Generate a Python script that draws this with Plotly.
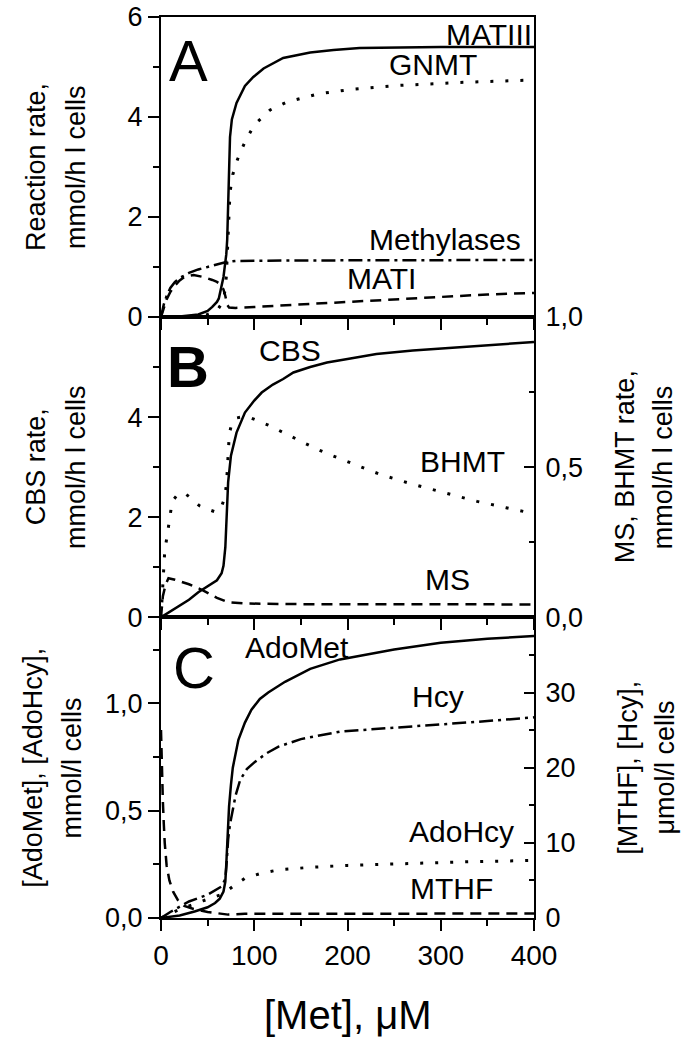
import plotly.graph_objects as go

# panel A: reaction rates, mmol/h l cells
MATIII_X = [0, 20, 40, 50, 55, 60, 62, 65, 67, 68, 69, 70, 71, 72, 73, 74, 76, 81, 90, 99, 110, 131, 160, 185, 213, 300, 400]
MATIII_Y = [0, 0.01, 0.05, 0.12, 0.2, 0.3, 0.37, 0.6, 0.8, 0.95, 1.1, 1.25, 1.55, 2.2, 3.0, 3.6, 3.95, 4.28, 4.62, 4.8, 4.97, 5.18, 5.29, 5.34, 5.38, 5.4, 5.4]
GNMT_X = [0, 30, 50, 60, 66, 68, 70, 71, 72, 73, 74, 77, 82, 90, 100, 117, 135, 168, 203, 254, 320, 400]
GNMT_Y = [0, 0.01, 0.05, 0.12, 0.3, 0.45, 0.8, 1.2, 1.7, 2.2, 2.5, 2.85, 3.15, 3.5, 3.84, 4.14, 4.3, 4.46, 4.55, 4.63, 4.69, 4.74]
METHYL_X = [0, 3, 6, 10, 15, 20, 30, 40, 50, 60, 70, 80, 150, 400]
METHYL_Y = [0, 0.25, 0.42, 0.58, 0.7, 0.78, 0.88, 0.95, 1.0, 1.05, 1.1, 1.12, 1.13, 1.14]
MATI_X = [0, 3, 6, 10, 15, 20, 25, 35, 45, 55, 60, 64, 67, 69, 70, 71, 73, 80, 100, 150, 200, 250, 300, 350, 400]
MATI_Y = [0, 0.2, 0.35, 0.5, 0.63, 0.73, 0.8, 0.84, 0.8, 0.74, 0.7, 0.65, 0.55, 0.42, 0.32, 0.24, 0.19, 0.18, 0.2, 0.25, 0.3, 0.36, 0.41, 0.45, 0.48]

# panel B: CBS (left), BHMT and MS (right)
CBS_X = [0, 10, 20, 30, 40, 50, 60, 65, 67, 69, 70, 71, 72, 75, 81, 90, 100, 108, 120, 131, 142, 160, 178, 200, 231, 270, 317, 360, 400]
CBS_Y = [0, 0.12, 0.23, 0.35, 0.5, 0.62, 0.74, 0.88, 1.03, 1.4, 1.8, 2.3, 2.7, 3.23, 3.69, 4.09, 4.33, 4.49, 4.65, 4.76, 4.89, 5.0, 5.09, 5.16, 5.26, 5.33, 5.39, 5.45, 5.5]
BHMT_X = [0, 2, 4, 7, 9, 12, 18, 25, 33, 41, 50, 59, 65, 68.6, 70.4, 71.5, 72.2, 73.3, 76, 80, 88, 97, 115, 131, 149, 167, 184, 201, 219, 236, 253, 270, 288, 305, 339, 370, 400]
BHMT_Y = [0, 0.12, 0.22, 0.28, 0.33, 0.386, 0.41, 0.414, 0.395, 0.372, 0.36, 0.35, 0.37, 0.40, 0.453, 0.505, 0.558, 0.613, 0.645, 0.663, 0.668, 0.663, 0.64, 0.615, 0.586, 0.56, 0.538, 0.516, 0.495, 0.475, 0.458, 0.443, 0.428, 0.414, 0.386, 0.365, 0.345]
MS_X = [0, 2, 5, 8, 15, 30, 45, 60, 72, 90, 150, 400]
MS_Y = [0, 0.07, 0.11, 0.13, 0.125, 0.11, 0.09, 0.065, 0.05, 0.046, 0.044, 0.043]

# panel C: AdoMet, AdoHcy (left, mmol/l), Hcy, MTHF (right, umol/l)
ADOMET_X = [0, 20, 36, 50, 58, 63, 67, 69, 70, 71, 72, 73, 75, 77, 83, 90, 97, 106, 115, 133, 160, 192, 250, 300, 350, 400]
ADOMET_Y = [0, 0.012, 0.03, 0.05, 0.07, 0.09, 0.123, 0.17, 0.25, 0.364, 0.45, 0.52, 0.62, 0.7, 0.83, 0.91, 0.97, 1.02, 1.05, 1.1, 1.16, 1.204, 1.25, 1.282, 1.3, 1.313]
HCY_X = [0, 10, 30, 50, 65, 69, 70.5, 72, 74, 76, 80, 85, 92, 101, 113, 126, 150, 192, 250, 299, 350, 400]
HCY_Y = [0, 0.8, 2.2, 3.1, 4.2, 5.2, 7.5, 10.5, 12.5, 13.8, 16.3, 18.4, 19.8, 20.8, 21.9, 22.8, 23.8, 24.8, 25.3, 25.7, 26.2, 26.7]
ADOHCY_X = [0, 20, 45, 65, 72, 78, 90, 108, 126, 160, 200, 260, 330, 400]
ADOHCY_Y = [0, 0.04, 0.08, 0.11, 0.13, 0.15, 0.185, 0.209, 0.224, 0.236, 0.245, 0.254, 0.262, 0.268]
MTHF_X = [0, 0.5, 1, 2, 3, 4, 6, 9, 13, 18, 25, 35, 50, 65, 72, 90, 400]
MTHF_Y = [25, 22, 19, 15.5, 12.5, 10, 7, 5, 3.5, 2.4, 1.6, 1.2, 0.8, 0.5, 0.45, 0.55, 0.6]

X_TICKS = [0, 100, 200, 300, 400]

FONT = "Liberation Sans, Arial, sans-serif"
DOT = "3px,12px"
DASH = "11px,7px"
DASHDOT = "14px,5px,3px,5px"


def line(x, y, xa, ya, dash, w=2.5):
    return go.Scatter(x=x, y=y, xaxis=xa, yaxis=ya, mode="lines",
                      line=dict(color="black", width=w, dash=dash),
                      showlegend=False, hoverinfo="skip")


fig = go.Figure()
# A
fig.add_trace(line(MATIII_X, MATIII_Y, "x3", "y3", "solid"))
fig.add_trace(line(GNMT_X, GNMT_Y, "x3", "y3", DOT, 3))
fig.add_trace(line(METHYL_X, METHYL_Y, "x3", "y3", DASHDOT))
fig.add_trace(line(MATI_X, MATI_Y, "x3", "y3", DASH))
# B
fig.add_trace(line(CBS_X, CBS_Y, "x2", "y2", "solid"))
fig.add_trace(line(BHMT_X, BHMT_Y, "x2", "y4", DOT, 3))
fig.add_trace(line(MS_X, MS_Y, "x2", "y4", DASH))
# C
fig.add_trace(line(ADOMET_X, ADOMET_Y, "x", "y", "solid"))
fig.add_trace(line(ADOHCY_X, ADOHCY_Y, "x", "y", DOT, 3))
fig.add_trace(line(HCY_X, HCY_Y, "x", "y5", DASHDOT))
fig.add_trace(line(MTHF_X, MTHF_Y, "x", "y5", DASH))

frame = dict(showline=True, linecolor="black", linewidth=2, mirror=True,
             showgrid=False, zeroline=False, ticks="outside", ticklen=11,
             tickwidth=2, tickcolor="black", automargin=False,
             ticklabeloverflow="allow",
             tickfont=dict(size=27, color="black"))
xminor = dict(tickvals=[50, 150, 250, 350], ticks="outside", ticklen=6,
              tickwidth=2, tickcolor="black")

xc = dict(frame, range=[0, 400], tickvals=X_TICKS, minor=xminor, anchor="y",
          tickfont=dict(size=28, color="black"))
xb = dict(frame, range=[0, 400], tickvals=X_TICKS, minor=xminor, anchor="y2",
          showticklabels=False, matches="x")
xa = dict(frame, range=[0, 400], tickvals=X_TICKS, minor=xminor, anchor="y3",
          showticklabels=False, matches="x")

ya = dict(frame, domain=[0.6671, 1], range=[0, 6], anchor="x3",
          tickvals=[0, 2, 4, 6],
          minor=dict(tickvals=[1, 3, 5], ticks="outside", ticklen=6, tickwidth=2, tickcolor="black"))
yb = dict(frame, domain=[0.3337, 0.6671], range=[0, 6], anchor="x2",
          tickvals=[0, 2, 4],
          minor=dict(tickvals=[1, 3, 5], ticks="outside", ticklen=6, tickwidth=2, tickcolor="black"))
yc = dict(frame, domain=[0, 0.3337], range=[0, 1.4], anchor="x",
          tickvals=[0, 0.5, 1.0], ticktext=["0,0", "0,5", "1,0"],
          minor=dict(tickvals=[0.25, 0.75, 1.25], ticks="outside", ticklen=6, tickwidth=2, tickcolor="black"))
yb_r = dict(frame, overlaying="y2", side="right", anchor="x2", range=[0, 1],
            mirror=False, ticks="inside", ticklen=10, ticklabelstandoff=4,
            tickvals=[0, 0.5, 1.0], ticktext=["0,0", "0,5", "1,0"],
            minor=dict(tickvals=[0.25, 0.75], ticks="inside", ticklen=5, tickwidth=2, tickcolor="black"))
yc_r = dict(frame, overlaying="y", side="right", anchor="x", range=[0, 40],
            mirror=False, ticks="inside", ticklen=10, ticklabelstandoff=4,
            tickvals=[0, 10, 20, 30],
            minor=dict(tickvals=[5, 15, 25, 35], ticks="inside", ticklen=5, tickwidth=2, tickcolor="black"))

fig.update_layout(
    width=693, height=1050,
    margin=dict(l=161, r=159, t=17, b=132, autoexpand=False),
    paper_bgcolor="white", plot_bgcolor="white",
    font=dict(family=FONT, color="black", size=27),
    xaxis=xc, xaxis2=xb, xaxis3=xa,
    yaxis=yc, yaxis2=yb, yaxis3=ya, yaxis4=yb_r, yaxis5=yc_r,
    showlegend=False,
)


def note(text, x, y, xref, yref, size=30, **kw):
    fig.add_annotation(text=text, x=x, y=y, xref=xref, yref=yref, showarrow=False,
                       font=dict(family=FONT, size=size, color="black"), **kw)


# curve labels
note("A", 30, 5.12, "x3", "y3", size=58)
note("MATIII", 400, 5.66, "x3", "y3", xanchor="right")
note("GNMT", 292, 5.04, "x3", "y3")
note("Methylases", 305, 1.54, "x3", "y3")
note("MATI", 236, 0.76, "x3", "y3")

note("<b>B</b>", 29, 5.02, "x2", "y2", size=58)
note("CBS", 138, 5.32, "x2", "y2")
note("BHMT", 323, 0.52, "x2", "y4")
note("MS", 307, 0.126, "x2", "y4")

note("C", 35, 1.167, "x", "y", size=58)
note("AdoMet", 146, 1.26, "x", "y")
note("Hcy", 297, 29.5, "x", "y5")
note("AdoHcy", 322, 11.5, "x", "y5")
note("MTHF", 311, 3.9, "x", "y5")

# axis titles, one annotation per line
titles = [
    ("Reaction rate,", -0.335, "y3 domain"), ("mmol/h l cells", -0.228, "y3 domain"),
    ("CBS rate,", -0.335, "y2 domain"), ("mmol/h l cells", -0.228, "y2 domain"),
    ("[AdoMet], [AdoHcy],", -0.343, "y domain"), ("mmol/l cells", -0.239, "y domain"),
    ("MS, BHMT rate,", 1.244, "y2 domain"), ("mmol/h l cells", 1.346, "y2 domain"),
    ("[MTHF], [Hcy],", 1.252, "y domain"), ("μmol/l cells", 1.351, "y domain"),
]
for text, x, yref in titles:
    note(text, x, 0.5, "paper", yref, size=27, textangle=-90,
         xanchor="center", yanchor="middle")

note("[Met], μM", 0.5, -0.108, "paper", "paper", size=40, yanchor="middle")

# drop the page margin so the figure sits at the window's top-left corner
fig.write_html("out.html", config={"displayModeBar": False},
               post_script="document.body.style.margin='0';")
